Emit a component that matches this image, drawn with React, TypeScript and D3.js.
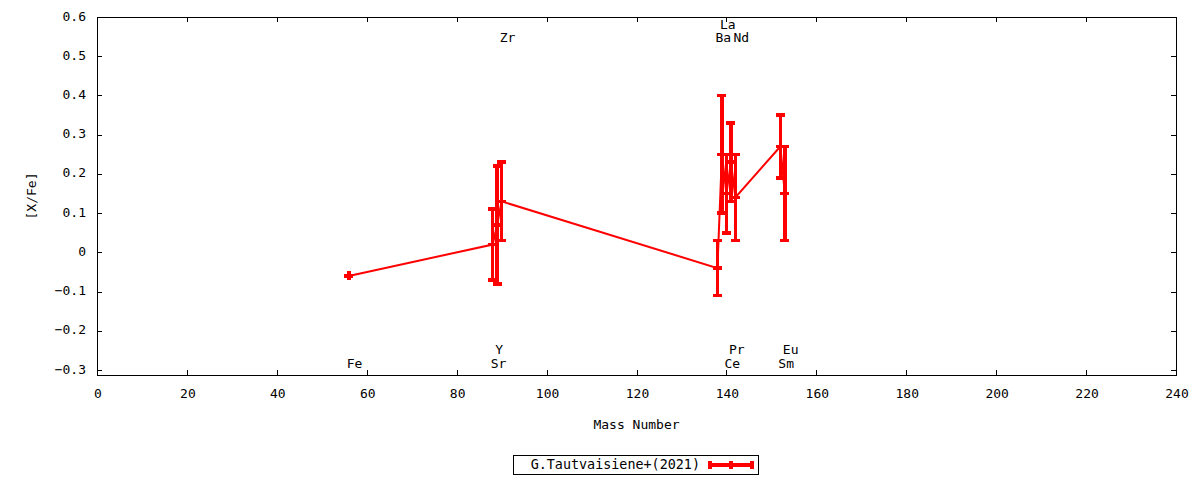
import React from 'react';
import * as d3 from 'd3';

const elements = ['Fe', 'Sr', 'Y', 'Zr', 'Ba', 'La', 'Ce', 'Pr', 'Nd', 'Sm', 'Eu'];
const massNumbers = [56, 88, 89, 90, 138, 139, 140, 141, 142, 152, 153];
const abundances = [-0.06, 0.02, 0.07, 0.13, -0.04, 0.25, 0.15, 0.23, 0.14, 0.27, 0.15];
const errors = [0, 0.09, 0.15, 0.10, 0.07, 0.15, 0.10, 0.10, 0.11, 0.08, 0.12];
const labelYs = [-0.28, -0.28, -0.245, 0.55, 0.55, 0.583, -0.28, -0.245, 0.55, -0.28, -0.245];

const xTicks = [0, 20, 40, 60, 80, 100, 120, 140, 160, 180, 200, 220, 240];
const yTicks = [-0.3, -0.2, -0.1, 0, 0.1, 0.2, 0.3, 0.4, 0.5, 0.6];

const seriesName = 'G.Tautvaisiene+(2021)';
const xTitle = 'Mass Number';
const yTitle = '[X/Fe]';

const W = 1200;
const H = 480;
const L = 97, R = 1176, T = 17, B = 375;
const FONT = '"DejaVu Sans Mono", monospace';
const RED = '#ff0000';

export default function App() {
  const x = d3.scaleLinear().domain([0, 240]).range([L, R]);
  const y = d3.scaleLinear().domain([-0.3125, 0.6]).range([B, T]);
  const pts = massNumbers.map((m, i) => ({ m, v: abundances[i], e: errors[i], el: elements[i], ly: labelYs[i] }));
  const line = d3.line<{ m: number; v: number }>().x(d => x(d.m)).y(d => y(d.v));
  const cap = 4.5;
  const tickLen = 5;
  const fmt = (v: number) => (Math.abs(v) < 1e-9 ? '0' : d3.format('.1f')(v));

  return (
    <svg width={W} height={H} style={{ position: 'absolute', left: 0, top: 0, background: '#fff' }} fontFamily={FONT} fontSize={13}>
      <rect x={0} y={0} width={W} height={H} fill="#fff" />
      {/* ticks */}
      <g stroke="#000" strokeWidth={1} shapeRendering="crispEdges">
        {xTicks.map(t => (
          <g key={'xt' + t}>
            <line x1={x(t) + 0.5} x2={x(t) + 0.5} y1={B} y2={B - tickLen} />
            <line x1={x(t) + 0.5} x2={x(t) + 0.5} y1={T} y2={T + tickLen} />
          </g>
        ))}
        {yTicks.map(t => (
          <g key={'yt' + t}>
            <line x1={L} x2={L + tickLen} y1={y(t) + 0.5} y2={y(t) + 0.5} />
            <line x1={R} x2={R - tickLen} y1={y(t) + 0.5} y2={y(t) + 0.5} />
          </g>
        ))}
      </g>
      {/* tick labels */}
      {xTicks.map(t => (
        <text key={'xl' + t} x={x(t) + 1} y={394} textAnchor="middle" dominantBaseline="middle" fill="#000">{t}</text>
      ))}
      {yTicks.map(t => (
        <text key={'yl' + t} x={86} y={y(t)} textAnchor="end" dominantBaseline="middle" fill="#000">{fmt(t)}</text>
      ))}
      {/* axis titles */}
      <text x={(L + R) / 2} y={425} textAnchor="middle" dominantBaseline="middle" fill="#000">{xTitle}</text>
      <text x={32} y={(T + B) / 2} textAnchor="middle" dominantBaseline="middle" fill="#000" transform={`rotate(-90 32 ${(T + B) / 2})`}>{yTitle}</text>
      {/* element labels */}
      {pts.map(p => (
        <text key={'el' + p.el} x={x(p.m) - 2} y={y(p.ly) + 2} textAnchor="start" dominantBaseline="middle" fill="#000">{p.el}</text>
      ))}
      {/* connecting line */}
      <path d={line(pts) || ''} fill="none" stroke={RED} strokeWidth={2} />
      {/* error bars with + markers */}
      <g stroke={RED} strokeWidth={3.5} shapeRendering="crispEdges">
        {pts.map(p => {
          const cx = x(p.m);
          const yt = y(p.v + p.e), yb = y(p.v - p.e), yc = y(p.v);
          return (
            <g key={'eb' + p.el}>
              {p.e > 0 && <line x1={cx} x2={cx} y1={yt} y2={yb} />}
              {p.e > 0 && <line x1={cx - cap} x2={cx + cap} y1={yt} y2={yt} />}
              {p.e > 0 && <line x1={cx - cap} x2={cx + cap} y1={yb} y2={yb} />}
              <line x1={cx - cap} x2={cx + cap} y1={yc} y2={yc} />
              <line x1={cx} x2={cx} y1={yc - cap} y2={yc + cap} />
            </g>
          );
        })}
      </g>
      {/* frame */}
      <rect x={L + 0.5} y={T + 0.5} width={R - L} height={B - T} fill="none" stroke="#000" strokeWidth={1} shapeRendering="crispEdges" />
      {/* legend */}
      <rect x={513.5} y={455.5} width={245} height={19} fill="#fff" stroke="#000" strokeWidth={1} shapeRendering="crispEdges" />
      <text x={700} y={465} textAnchor="end" dominantBaseline="middle" fill="#000" fontSize={13.4}>{seriesName}</text>
      <g stroke={RED} strokeWidth={3.5} shapeRendering="crispEdges">
        <line x1={710} x2={752} y1={465} y2={465} />
        <line x1={710} x2={710} y1={461} y2={469} />
        <line x1={752} x2={752} y1={461} y2={469} />
        <line x1={731} x2={731} y1={461} y2={469} />
      </g>
    </svg>
  );
}
